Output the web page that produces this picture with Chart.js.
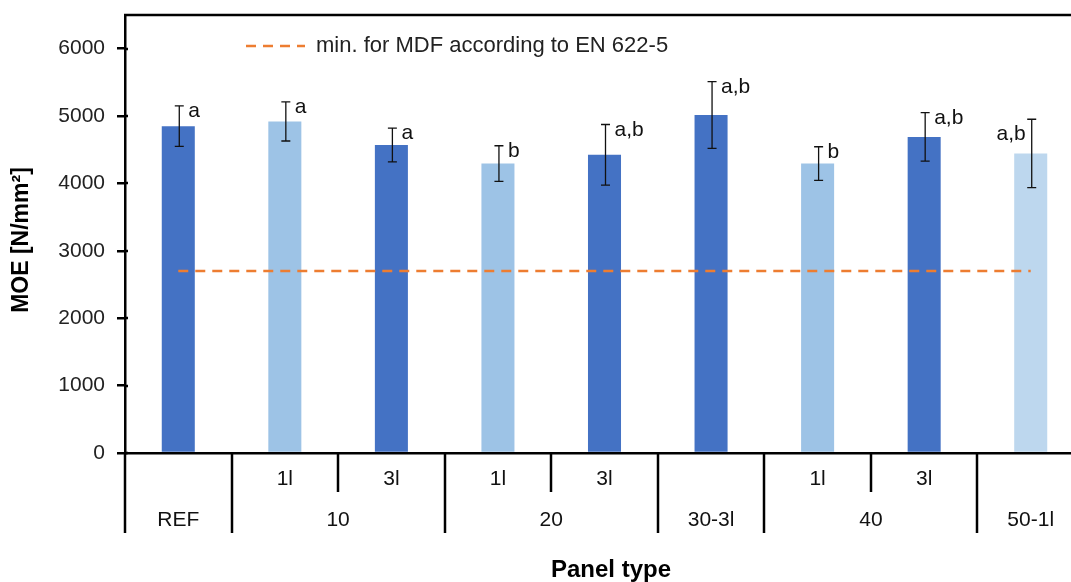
<!DOCTYPE html>
<html>
<head>
<meta charset="utf-8">
<script src="https://cdn.jsdelivr.net/npm/chart.js@4.4.1/dist/chart.umd.min.js"></script>
<style>
  html, body { margin: 0; padding: 0; background: #fff; overflow: hidden; }
  canvas { display: block; }
</style>
</head>
<body>
<canvas id="moeChart" width="1084" height="582"></canvas>
<script>
// data
const categories = ["REF", "10-1l", "10-3l", "20-1l", "20-3l", "30-3l", "40-1l", "40-3l", "50-1l"];
const moeMean = [4850, 4920, 4570, 4295, 4425, 5015, 4295, 4690, 4445];
const moeSd = [300, 290, 250, 265, 450, 495, 250, 360, 508];
const letters = ["a", "a", "a", "b", "a,b", "a,b", "b", "a,b", "a,b"];
const subLabels = ["", "1l", "3l", "1l", "3l", "", "1l", "3l", ""];
const groupLabels = ["REF", "10", "20", "30-3l", "40", "50-1l"];
const groupSpans = [1, 2, 2, 1, 2, 1];
const yTicks = [0, 1000, 2000, 3000, 4000, 5000, 6000];
const minMDF = 2700;
const yTitle = "MOE [N/mm²]";
const xTitle = "Panel type";
const legendText = "min. for MDF according to EN 622-5";

const FONT = '"Liberation Sans", Arial, sans-serif';

document.addEventListener("DOMContentLoaded", function () {
  // error bars + significance letters
  const errorBars = {
    id: "errorBars",
    afterDatasetsDraw(chart) {
      const ctx = chart.ctx;
      const y = chart.scales.y;
      const bars = chart.getDatasetMeta(0).data;
      ctx.save();
      ctx.strokeStyle = "#111";
      ctx.lineWidth = 1.3;
      ctx.fillStyle = "#111";
      ctx.font = "21px " + FONT;
      for (let i = 0; i < bars.length; i++) {
        const x = bars[i].x + 1;
        const top = y.getPixelForValue(moeMean[i] + moeSd[i]);
        const bot = y.getPixelForValue(moeMean[i] - moeSd[i]);
        ctx.beginPath();
        ctx.moveTo(x, top); ctx.lineTo(x, bot);
        ctx.moveTo(x - 4.5, top); ctx.lineTo(x + 4.5, top);
        ctx.moveTo(x - 4.5, bot); ctx.lineTo(x + 4.5, bot);
        ctx.stroke();
        // last label sits on the left of the whisker
        if (i === bars.length - 1) {
          ctx.textAlign = "right";
          ctx.fillText(letters[i], x - 6, top + 21);
        } else {
          ctx.textAlign = "left";
          ctx.fillText(letters[i], x + 9, top + 11);
        }
      }
      ctx.restore();
    },
  };

  // frame, legend, two-level category axis, titles
  const panelAxis = {
    id: "panelAxis",
    afterDraw(chart) {
      const ctx = chart.ctx;
      const area = chart.chartArea;
      const xs = chart.scales.x;
      const line = chart.data.datasets[1];
      ctx.save();

      // top frame line
      ctx.strokeStyle = "#000";
      ctx.lineWidth = 2.5;
      ctx.beginPath();
      ctx.moveTo(area.left - 1, area.top);
      ctx.lineTo(area.right, area.top);
      ctx.stroke();

      // legend inside plot
      const ly = area.top + 31;
      ctx.strokeStyle = line.borderColor;
      ctx.lineWidth = line.borderWidth;
      ctx.setLineDash(line.borderDash);
      ctx.beginPath();
      ctx.moveTo(area.left + 121, ly);
      ctx.lineTo(area.left + 180, ly);
      ctx.stroke();
      ctx.setLineDash([]);
      ctx.fillStyle = "#222";
      ctx.font = "22px " + FONT;
      ctx.textAlign = "left";
      ctx.textBaseline = "middle";
      ctx.fillText(legendText, area.left + 191, ly);

      // y tick marks cross the axis slightly
      const ys = chart.scales.y;
      ctx.strokeStyle = "#000";
      ctx.lineWidth = 2.5;
      yTicks.forEach((v) => {
        const yp = Math.round(ys.getPixelForValue(v));
        ctx.beginPath();
        ctx.moveTo(area.left - 1, yp);
        ctx.lineTo(area.left + 3, yp);
        ctx.stroke();
      });

      // category boundaries
      const n = categories.length;
      const edge = (k) => {
        if (k === 0) return area.left;
        if (k === n) return area.right;
        return (xs.getPixelForValue(k - 1) + xs.getPixelForValue(k)) / 2;
      };
      const groupEdges = [0];
      groupSpans.forEach((s) => groupEdges.push(groupEdges[groupEdges.length - 1] + s));

      for (let k = 0; k <= n; k++) {
        const tall = groupEdges.includes(k);
        const xp = Math.round(edge(k));
        ctx.beginPath();
        ctx.moveTo(xp, area.bottom);
        ctx.lineTo(xp, area.bottom + (tall ? 80 : 39));
        ctx.stroke();
      }

      ctx.font = "21px " + FONT;
      ctx.fillStyle = "#111";
      ctx.textAlign = "center";
      ctx.textBaseline = "middle";
      for (let i = 0; i < n; i++) {
        if (subLabels[i]) ctx.fillText(subLabels[i], xs.getPixelForValue(i), area.bottom + 26);
      }
      for (let g = 0; g < groupLabels.length; g++) {
        const cx = (edge(groupEdges[g]) + edge(groupEdges[g + 1])) / 2;
        ctx.fillText(groupLabels[g], cx, area.bottom + 67);
      }

      // axis titles
      ctx.font = "bold 24px " + FONT;
      ctx.fillStyle = "#000";
      ctx.textBaseline = "alphabetic";
      ctx.fillText(xTitle, 611, 577);
      ctx.font = "bold 23px " + FONT;
      ctx.translate(22, 240);
      ctx.rotate(-Math.PI / 2);
      ctx.textBaseline = "middle";
      ctx.fillText(yTitle, 0, 0);
      ctx.restore();
    },
  };

  const data = {
    labels: categories,
    datasets: [
      {
        type: "bar",
        label: "MOE",
        data: moeMean,
        backgroundColor: ["#4472C4", "#9DC3E6", "#4472C4", "#9DC3E6", "#4472C4", "#4472C4", "#9DC3E6", "#4472C4", "#BDD7EE"],
        barPercentage: 0.31,
        categoryPercentage: 1,
        order: 1,
      },
      {
        type: "line",
        label: legendText,
        data: categories.map(() => minMDF),
        borderColor: "#ED7D31",
        borderWidth: 2.5,
        borderDash: [10, 7],
        pointRadius: 0,
        fill: false,
        order: 0,
      },
    ],
  };

  const config = {
    data: data,
    options: {
      responsive: false,
      animation: false,
      layout: { padding: { top: 15, left: 0, right: 0, bottom: 0 } },
      plugins: { legend: { display: false }, tooltip: { enabled: false } },
      scales: {
        x: {
          ticks: { display: false },
          grid: { display: false },
          border: { display: true, color: "#000", width: 2.5 },
          afterFit: (s) => { s.height = 129; s.paddingLeft = 0; s.paddingRight = 0; },
        },
        y: {
          min: 0,
          max: 6500,
          afterBuildTicks: (s) => { s.ticks = yTicks.map((v) => ({ value: v })); },
          ticks: {
            padding: 12,
            color: "#222",
            font: { family: FONT, size: 21 },
            callback: (v) => String(v),
          },
          grid: { drawOnChartArea: false, drawTicks: true, tickLength: 8, color: "#000", lineWidth: 2.5 },
          border: { display: true, color: "#000", width: 2.5 },
          afterFit: (s) => { s.width = 125; s.paddingTop = 0; s.paddingBottom = 0; },
        },
      },
    },
    plugins: [errorBars, panelAxis],
  };

  new Chart(document.getElementById("moeChart"), config);
});
</script>
</body>
</html>
